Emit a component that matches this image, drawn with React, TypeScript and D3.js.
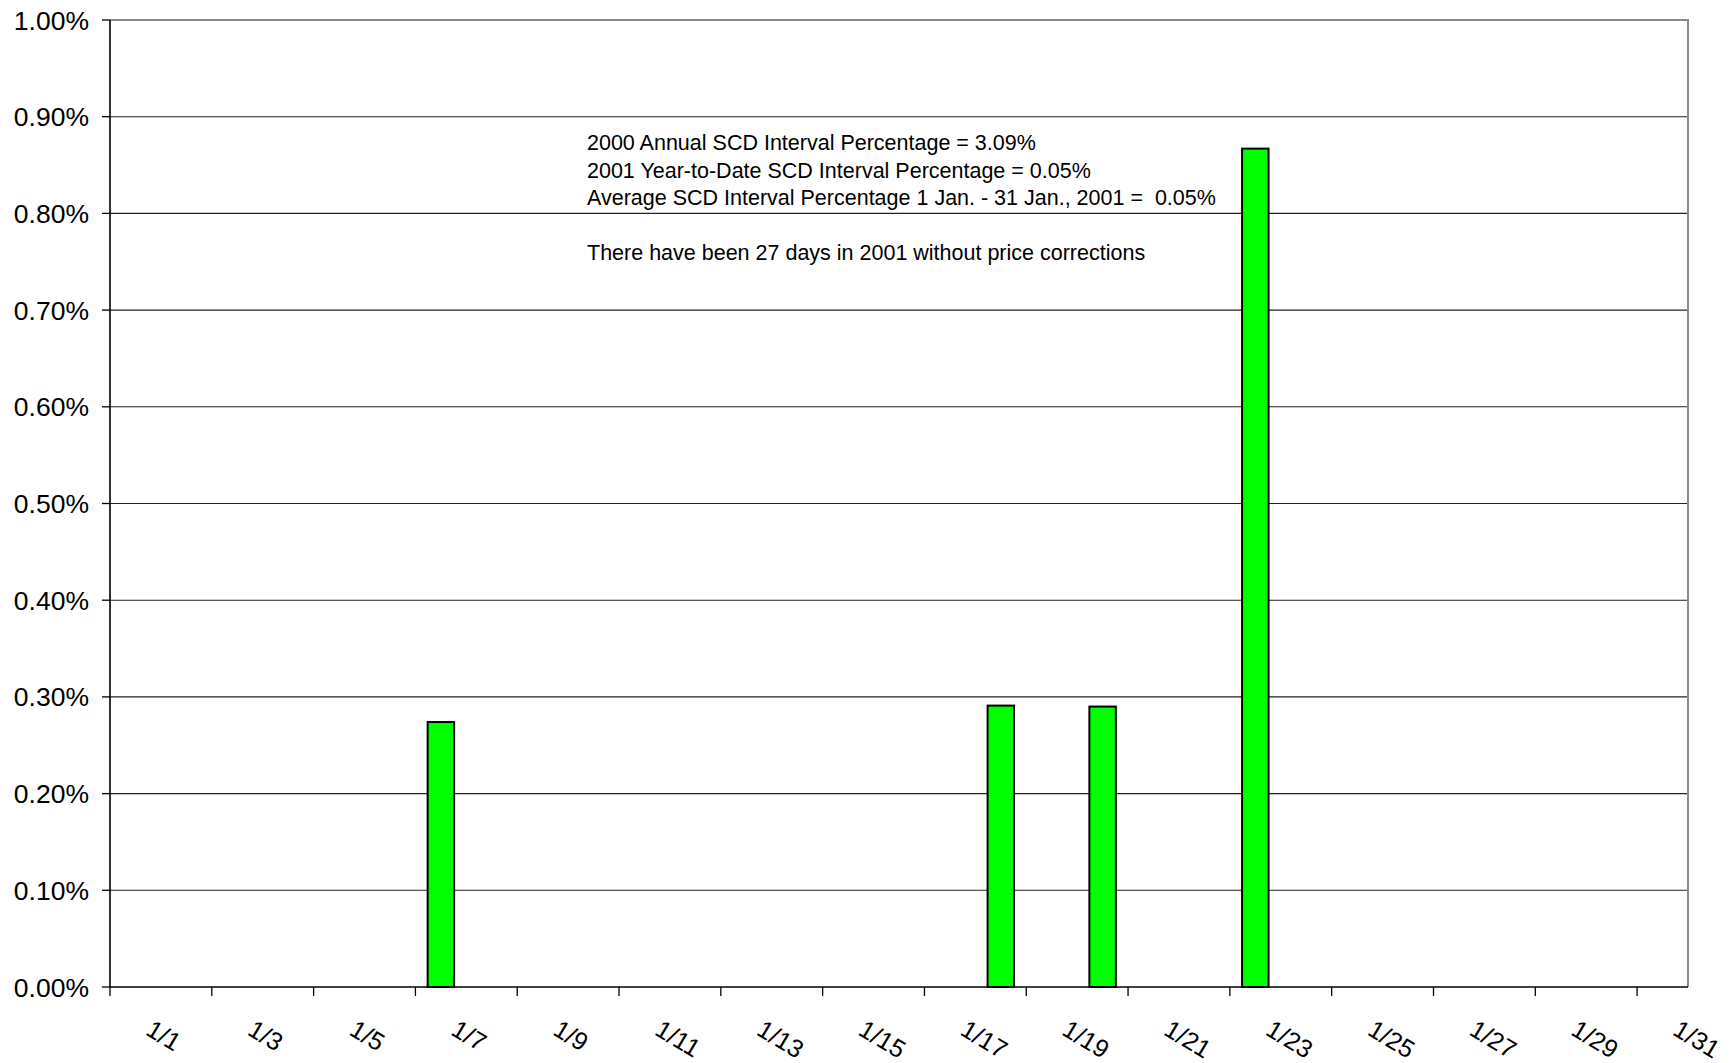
import { useEffect, useRef } from "react";
import * as d3 from "d3";

// January 2001 days and SCD interval percentage (fraction)
const days: number[] = d3.range(1, 32);
const values: number[] = [
  0, 0, 0, 0, 0, 0, 0.00274, 0, 0, 0,
  0, 0, 0, 0, 0, 0, 0, 0.00291, 0, 0.0029,
  0, 0, 0.00867, 0, 0, 0, 0, 0, 0, 0,
  0,
];
const yTicks: number[] = d3.range(0, 11).map((i) => i / 1000);
const labelDays: number[] = d3.range(1, 32, 2);
const notes: string[] = [
  "2000 Annual SCD Interval Percentage = 3.09%",
  "2001 Year-to-Date SCD Interval Percentage = 0.05%",
  "Average SCD Interval Percentage 1 Jan. - 31 Jan., 2001 =  0.05%",
];
const footNote = "There have been 27 days in 2001 without price corrections";

const W = 1733;
const H = 1063;
const M = { left: 110, right: 45, top: 20, bottom: 76 };

export default function App() {
  const ref = useRef<SVGSVGElement | null>(null);

  useEffect(() => {
    const svgEl = ref.current;
    if (!svgEl) return;
    const svg = d3.select(svgEl);
    svg.selectAll("*").remove();

    const x0 = M.left;
    const x1 = W - M.right;
    const y0 = H - M.bottom;
    const y1 = M.top;

    const x = d3
      .scaleBand<number>()
      .domain(days)
      .range([x0, x1])
      .paddingInner(0.48)
      .paddingOuter(0.24);
    const y = d3.scaleLinear().domain([0, 0.01]).range([y0, y1]);
    const gap = (x.step() - x.bandwidth()) / 2;

    svg.style("font-family", "Arial, 'Liberation Sans', sans-serif");

    // gridlines
    svg
      .append("g")
      .selectAll("line")
      .data(yTicks.filter((t) => t > 0 && t < 0.01))
      .join("line")
      .attr("x1", x0)
      .attr("x2", x1)
      .attr("y1", (d) => y(d))
      .attr("y2", (d) => y(d))
      .attr("stroke", "#222")
      .attr("stroke-width", 1.1);

    // plot frame: top and right grey
    svg
      .append("path")
      .attr("d", `M${x0},${y1}H${x1}V${y0}`)
      .attr("fill", "none")
      .attr("stroke", "#8a8a8a")
      .attr("stroke-width", 2);

    // bars
    svg
      .append("g")
      .selectAll("rect")
      .data(days.map((d, i) => ({ day: d, v: values[i] })).filter((d) => d.v > 0))
      .join("rect")
      .attr("x", (d) => x(d.day)!)
      .attr("width", x.bandwidth())
      .attr("y", (d) => y(d.v))
      .attr("height", (d) => y(0) - y(d.v))
      .attr("fill", "#00ff00")
      .attr("stroke", "#000")
      .attr("stroke-width", 2);

    // y axis
    const yAxis = svg.append("g");
    yAxis
      .append("line")
      .attr("x1", x0)
      .attr("x2", x0)
      .attr("y1", y1)
      .attr("y2", y0)
      .attr("stroke", "#000")
      .attr("stroke-width", 1.6);
    yAxis
      .selectAll("line.tick")
      .data(yTicks)
      .join("line")
      .attr("class", "tick")
      .attr("x1", x0 - 8)
      .attr("x2", x0)
      .attr("y1", (d) => y(d))
      .attr("y2", (d) => y(d))
      .attr("stroke", "#000")
      .attr("stroke-width", 1.3);
    yAxis
      .selectAll("text")
      .data(yTicks)
      .join("text")
      .attr("x", 89)
      .attr("y", (d) => y(d))
      .attr("dy", "0.36em")
      .attr("text-anchor", "end")
      .style("font-size", "26.5px")
      .attr("fill", "#000")
      .text((d) => d3.format(".2%")(d));

    // x axis
    const xAxis = svg.append("g");
    xAxis
      .append("line")
      .attr("x1", x0)
      .attr("x2", x1)
      .attr("y1", y0)
      .attr("y2", y0)
      .attr("stroke", "#000")
      .attr("stroke-width", 1.6);
    xAxis
      .selectAll("line.tick")
      .data(labelDays)
      .join("line")
      .attr("class", "tick")
      .attr("x1", (d) => x(d)! - gap)
      .attr("x2", (d) => x(d)! - gap)
      .attr("y1", y0)
      .attr("y2", y0 + 9)
      .attr("stroke", "#000")
      .attr("stroke-width", 1.3);
    xAxis
      .selectAll("text")
      .data(labelDays)
      .join("text")
      .attr("transform", (d) => `translate(${x(d)! + x.bandwidth() / 2 + 9},${y0 + 47}) rotate(31)`)
      .attr("text-anchor", "start")
      .style("font-size", "25px")
      .attr("fill", "#000")
      .text((d) => `1/${d}`);

    // annotation
    const note = svg
      .append("g")
      .style("font-size", "21.5px")
      .attr("fill", "#000");
    note
      .selectAll("text")
      .data(notes)
      .join("text")
      .attr("xml:space", "preserve")
      .style("white-space", "pre")
      .attr("x", 587)
      .attr("y", (_d, i) => 150 + i * 27.5)
      .text((d) => d);
    note.append("text").attr("x", 587).attr("y", 260).text(footNote);
  }, []);

  return (
    <div style={{ position: "absolute", left: 0, top: 0 }}>
      <svg ref={ref} width={W} height={H} style={{ display: "block", background: "#fff" }} />
    </div>
  );
}
